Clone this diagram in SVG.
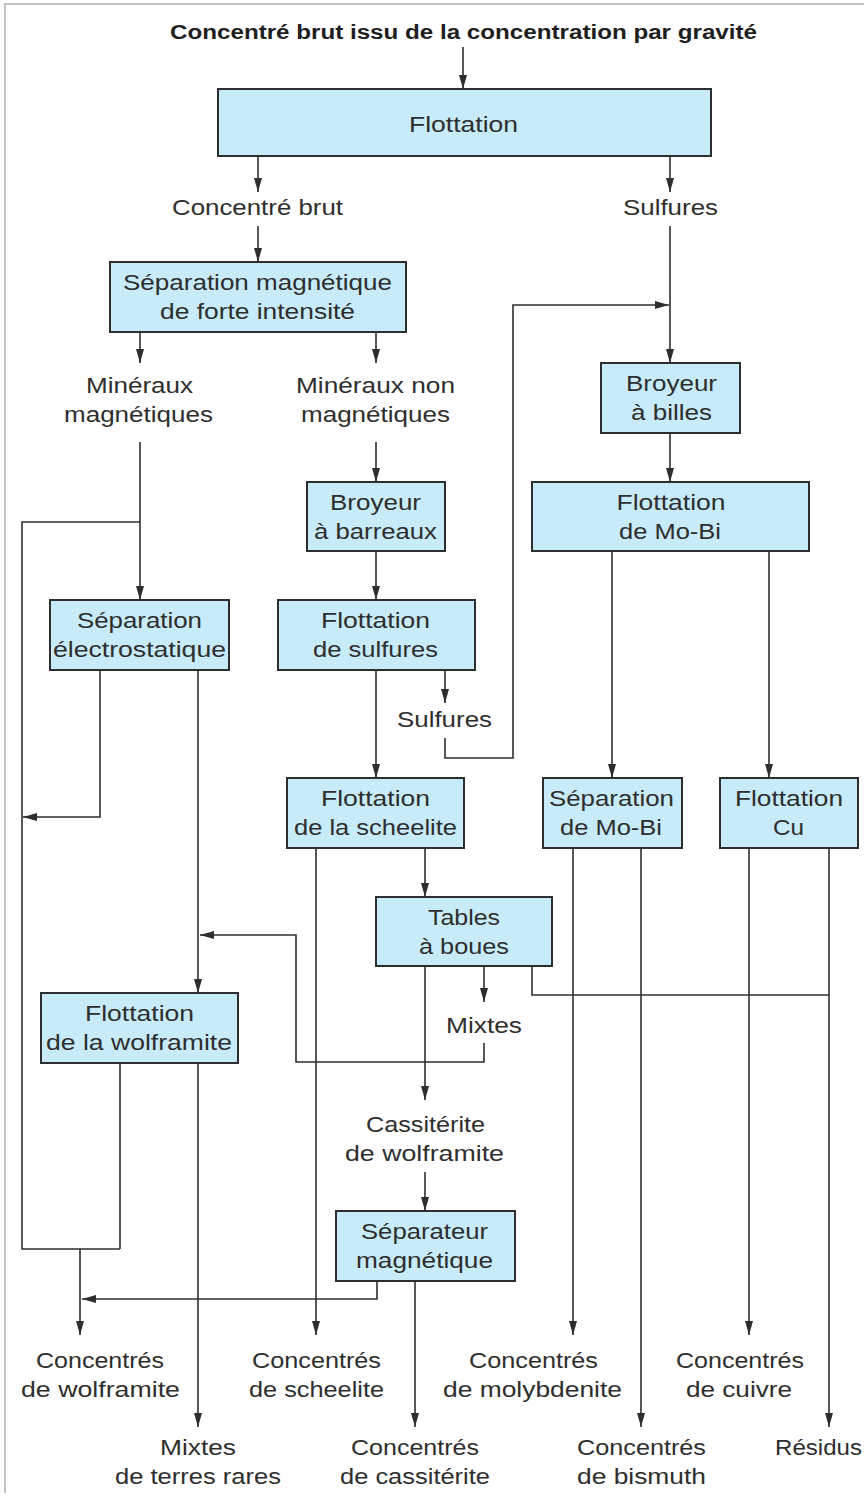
<svg xmlns="http://www.w3.org/2000/svg" width="864" height="1499" viewBox="0 0 864 1499">
<defs>
<style>
.bx{fill:#c8ebfa;stroke:#2e2e2e;stroke-width:2}
.t{font-family:"Liberation Sans",Arial,sans-serif;font-size:22px;fill:#2e2e2e;text-anchor:middle}
.tb{font-family:"Liberation Sans",Arial,sans-serif;font-size:20px;font-weight:bold;fill:#1e1e1e;text-anchor:middle}
.c{fill:none;stroke:#2e2e2e;stroke-width:1.6}
.a{marker-end:url(#ah)}
</style>
<marker id="ah" markerUnits="userSpaceOnUse" markerWidth="14" markerHeight="10" refX="14" refY="5" orient="auto">
<path d="M0,1 L14,5 L0,9 z" fill="#2e2e2e"/>
</marker>
</defs>
<rect width="864" height="1499" fill="#ffffff"/>
<path d="M5,1493 V4 H864" fill="none" stroke="#c4c4c4" stroke-width="2"/>

<g id="connectors">
<path class="c a" d="M463,47 V89"/>
<path class="c a" d="M258,156 V192"/>
<path class="c a" d="M670,156 V192"/>
<path class="c a" d="M258,226 V262"/>
<path class="c a" d="M670,226 V363"/>
<path class="c a" d="M445,738 V758 H513 V305 H669"/>
<path class="c a" d="M140,332 V363"/>
<path class="c a" d="M376,332 V363"/>
<path class="c a" d="M140,442 V600"/>
<path class="c" d="M140,522 H22 V1249 H120"/>
<path class="c a" d="M80,1249 V1335"/>
<path class="c a" d="M376,442 V482"/>
<path class="c a" d="M376,551 V600"/>
<path class="c a" d="M670,433 V482"/>
<path class="c a" d="M100,670 V817 H23"/>
<path class="c a" d="M198,670 V993"/>
<path class="c a" d="M376,670 V778"/>
<path class="c a" d="M445,670 V703"/>
<path class="c a" d="M612,551 V778"/>
<path class="c a" d="M769,551 V778"/>
<path class="c a" d="M316,848 V1335"/>
<path class="c a" d="M425,848 V897"/>
<path class="c a" d="M573,848 V1335"/>
<path class="c a" d="M641,848 V1427"/>
<path class="c a" d="M749,848 V1335"/>
<path class="c a" d="M829,848 V1427"/>
<path class="c a" d="M425,966 V1100"/>
<path class="c a" d="M484,966 V1002"/>
<path class="c a" d="M484,1043 V1062 H296 V935 H200"/>
<path class="c" d="M532,966 V995 H829"/>
<path class="c" d="M120,1063 V1249"/>
<path class="c a" d="M198,1063 V1427"/>
<path class="c a" d="M425,1172 V1211"/>
<path class="c a" d="M377,1281 V1299 H82"/>
<path class="c a" d="M415,1281 V1427"/>
</g>

<g id="title"><text class="tb" x="463.5" y="39" textLength="587" lengthAdjust="spacingAndGlyphs">Concentré brut issu de la concentration par gravité</text></g>

<g id="flottation"><rect class="bx" x="218" y="89" width="493" height="67"/><text class="t" x="463.5" y="132" textLength="109" lengthAdjust="spacingAndGlyphs">Flottation</text></g>

<g id="lbl-concentre-brut"><text class="t" x="257.5" y="215" textLength="171" lengthAdjust="spacingAndGlyphs">Concentré brut</text></g>
<g id="lbl-sulfures-1"><text class="t" x="670.5" y="215" textLength="95" lengthAdjust="spacingAndGlyphs">Sulfures</text></g>

<g id="sep-mag"><rect class="bx" x="110" y="262" width="296" height="70"/><text class="t" x="257.5" y="290" textLength="269" lengthAdjust="spacingAndGlyphs">Séparation magnétique</text><text class="t" x="257.5" y="319" textLength="195" lengthAdjust="spacingAndGlyphs">de forte intensité</text></g>

<g id="lbl-min-mag"><text class="t" x="139.5" y="393" textLength="107" lengthAdjust="spacingAndGlyphs">Minéraux</text><text class="t" x="138.5" y="422" textLength="149" lengthAdjust="spacingAndGlyphs">magnétiques</text></g>
<g id="lbl-min-nonmag"><text class="t" x="375.5" y="393" textLength="159" lengthAdjust="spacingAndGlyphs">Minéraux non</text><text class="t" x="375.5" y="422" textLength="149" lengthAdjust="spacingAndGlyphs">magnétiques</text></g>

<g id="broyeur-billes"><rect class="bx" x="601" y="363" width="139" height="70"/><text class="t" x="671.5" y="391" textLength="91" lengthAdjust="spacingAndGlyphs">Broyeur</text><text class="t" x="671.5" y="420" textLength="81" lengthAdjust="spacingAndGlyphs">à billes</text></g>

<g id="broyeur-barreaux"><rect class="bx" x="307" y="482" width="138" height="69"/><text class="t" x="375.5" y="510" textLength="91" lengthAdjust="spacingAndGlyphs">Broyeur</text><text class="t" x="375.5" y="539" textLength="123" lengthAdjust="spacingAndGlyphs">à barreaux</text></g>

<g id="flottation-mobi"><rect class="bx" x="532" y="482" width="277" height="69"/><text class="t" x="671" y="510" textLength="109" lengthAdjust="spacingAndGlyphs">Flottation</text><text class="t" x="670" y="539" textLength="102" lengthAdjust="spacingAndGlyphs">de Mo-Bi</text></g>

<g id="sep-electro"><rect class="bx" x="50" y="600" width="179" height="70"/><text class="t" x="139.5" y="628" textLength="125" lengthAdjust="spacingAndGlyphs">Séparation</text><text class="t" x="139.5" y="657" textLength="173" lengthAdjust="spacingAndGlyphs">électrostatique</text></g>

<g id="flottation-sulfures"><rect class="bx" x="278" y="600" width="197" height="70"/><text class="t" x="375.5" y="628" textLength="109" lengthAdjust="spacingAndGlyphs">Flottation</text><text class="t" x="375.5" y="657" textLength="125" lengthAdjust="spacingAndGlyphs">de sulfures</text></g>

<g id="lbl-sulfures-2"><text class="t" x="444.5" y="727" textLength="95" lengthAdjust="spacingAndGlyphs">Sulfures</text></g>

<g id="flottation-scheelite"><rect class="bx" x="287" y="778" width="177" height="70"/><text class="t" x="375.5" y="806" textLength="109" lengthAdjust="spacingAndGlyphs">Flottation</text><text class="t" x="375.5" y="835" textLength="163" lengthAdjust="spacingAndGlyphs">de la scheelite</text></g>

<g id="sep-mobi"><rect class="bx" x="543" y="778" width="139" height="70"/><text class="t" x="611.5" y="806" textLength="125" lengthAdjust="spacingAndGlyphs">Séparation</text><text class="t" x="611" y="835" textLength="102" lengthAdjust="spacingAndGlyphs">de Mo-Bi</text></g>

<g id="flottation-cu"><rect class="bx" x="720" y="778" width="138" height="70"/><text class="t" x="789" y="806" textLength="108" lengthAdjust="spacingAndGlyphs">Flottation</text><text class="t" x="788.5" y="835" textLength="31" lengthAdjust="spacingAndGlyphs">Cu</text></g>

<g id="tables-boues"><rect class="bx" x="376" y="897" width="176" height="69"/><text class="t" x="464" y="925" textLength="72" lengthAdjust="spacingAndGlyphs">Tables</text><text class="t" x="464" y="954" textLength="90" lengthAdjust="spacingAndGlyphs">à boues</text></g>

<g id="lbl-mixtes"><text class="t" x="484" y="1033" textLength="76" lengthAdjust="spacingAndGlyphs">Mixtes</text></g>

<g id="flottation-wolframite"><rect class="bx" x="41" y="993" width="197" height="70"/><text class="t" x="139.5" y="1021" textLength="109" lengthAdjust="spacingAndGlyphs">Flottation</text><text class="t" x="139" y="1050" textLength="186" lengthAdjust="spacingAndGlyphs">de la wolframite</text></g>

<g id="lbl-cassiterite"><text class="t" x="425.5" y="1132" textLength="119" lengthAdjust="spacingAndGlyphs">Cassitérite</text><text class="t" x="424.5" y="1161" textLength="159" lengthAdjust="spacingAndGlyphs">de wolframite</text></g>

<g id="separateur-mag"><rect class="bx" x="336" y="1211" width="179" height="70"/><text class="t" x="424.5" y="1239" textLength="127" lengthAdjust="spacingAndGlyphs">Séparateur</text><text class="t" x="424.5" y="1268" textLength="137" lengthAdjust="spacingAndGlyphs">magnétique</text></g>

<g id="out-wolframite"><text class="t" x="100" y="1368" textLength="128" lengthAdjust="spacingAndGlyphs">Concentrés</text><text class="t" x="100.5" y="1397" textLength="159" lengthAdjust="spacingAndGlyphs">de wolframite</text></g>
<g id="out-scheelite"><text class="t" x="316.5" y="1368" textLength="129" lengthAdjust="spacingAndGlyphs">Concentrés</text><text class="t" x="316.5" y="1397" textLength="135" lengthAdjust="spacingAndGlyphs">de scheelite</text></g>
<g id="out-molybdenite"><text class="t" x="533.5" y="1368" textLength="129" lengthAdjust="spacingAndGlyphs">Concentrés</text><text class="t" x="532.5" y="1397" textLength="179" lengthAdjust="spacingAndGlyphs">de molybdenite</text></g>
<g id="out-cuivre"><text class="t" x="740" y="1368" textLength="128" lengthAdjust="spacingAndGlyphs">Concentrés</text><text class="t" x="739" y="1397" textLength="106" lengthAdjust="spacingAndGlyphs">de cuivre</text></g>
<g id="out-terres-rares"><text class="t" x="198" y="1455" textLength="76" lengthAdjust="spacingAndGlyphs">Mixtes</text><text class="t" x="198" y="1484" textLength="166" lengthAdjust="spacingAndGlyphs">de terres rares</text></g>
<g id="out-cassiterite"><text class="t" x="415" y="1455" textLength="128" lengthAdjust="spacingAndGlyphs">Concentrés</text><text class="t" x="415" y="1484" textLength="150" lengthAdjust="spacingAndGlyphs">de cassitérite</text></g>
<g id="out-bismuth"><text class="t" x="641.5" y="1455" textLength="129" lengthAdjust="spacingAndGlyphs">Concentrés</text><text class="t" x="641.5" y="1484" textLength="129" lengthAdjust="spacingAndGlyphs">de bismuth</text></g>
<g id="out-residus"><text class="t" x="818.5" y="1455" textLength="87" lengthAdjust="spacingAndGlyphs">Résidus</text></g>
</svg>
